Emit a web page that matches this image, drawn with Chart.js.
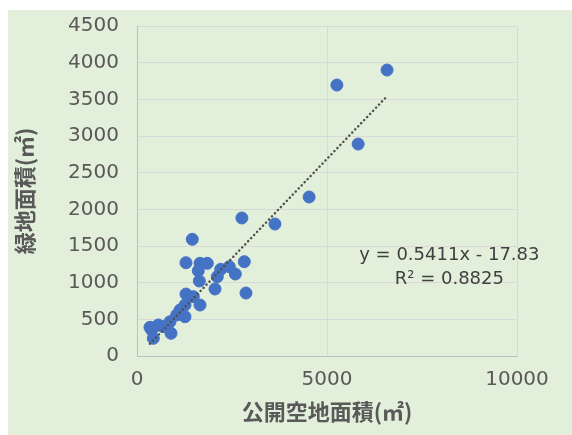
<!DOCTYPE html>
<html>
<head>
<meta charset="utf-8">
<script src="https://cdn.jsdelivr.net/npm/chart.js@4"></script>
<style>
  html, body { margin: 0; padding: 0; background: #ffffff; }
  #wrap { position: absolute; left: 8px; top: 10px; width: 564px; height: 425px; background: #E2EFDA; }
  canvas { display: block; }
</style>
</head>
<body>
<div id="wrap"><canvas id="chart" width="564" height="425"></canvas></div>
<script>
// Data
const openSpaceArea = [6580, 5260, 5820, 4530, 3630, 2760, 1455, 2824, 2868, 1289, 1658, 1850, 1613, 1640,
                       2053, 2203, 2429, 2587, 2113, 1289, 1482, 1658, 1263, 1132, 1045, 1263, 868, 692,
                       561, 342, 387, 895, 429];
const greenArea = [3900, 3695, 2890, 2168, 1800, 1882, 1591, 1286, 859, 1272, 1264, 1264, 1163, 1023,
                   914, 1182, 1218, 1118, 1081, 845, 809, 695, 695, 627, 559, 536, 468, 400,
                   423, 391, 355, 310, 241];
const xTicks = [0, 5000, 10000];
const yTicks = [0, 500, 1000, 1500, 2000, 2500, 3000, 3500, 4000, 4500];
const slope = 0.5411;
const intercept = -17.83;
const equationText = 'y = 0.5411x - 17.83';
const r2Text = 'R² = 0.8825';

const FONT = '"Noto Sans CJK JP", "Noto Sans", sans-serif';
const NUMFONT = '"DejaVu Sans", sans-serif';

const points = openSpaceArea.map((x, i) => ({ x: x, y: greenArea[i] }));
const xMin = Math.min(...openSpaceArea);
const xMax = Math.max(...openSpaceArea);
const trend = [
    { x: xMin, y: slope * xMin + intercept },
    { x: xMax, y: slope * xMax + intercept }
];

// Trendline equation label
const equationLabel = {
    id: 'equationLabel',
    afterDraw(chart) {
        const ctx = chart.ctx;
        const area = chart.chartArea;
        const cx = area.left + (area.right - area.left) * 0.822;
        const cy = area.top + (area.bottom - area.top) * 0.696;
        ctx.save();
        ctx.font = '18px ' + NUMFONT;
        ctx.fillStyle = '#404040';
        ctx.textAlign = 'center';
        ctx.textBaseline = 'middle';
        ctx.fillText(equationText, cx, cy);
        ctx.fillText(r2Text, cx, cy + 24);
        ctx.restore();
    }
};

new Chart(document.getElementById('chart'), {
    type: 'scatter',
    data: {
        datasets: [
            {
                label: 'data',
                data: points,
                backgroundColor: '#4472C4',
                borderColor: '#4472C4',
                pointRadius: 6,
                pointHoverRadius: 6,
                order: 2
            },
            {
                label: 'trend',
                type: 'line',
                data: trend,
                showLine: true,
                borderColor: '#505050',
                borderWidth: 2.5,
                borderDash: [0.1, 4.2],
                borderCapStyle: 'round',
                pointRadius: 0,
                fill: false,
                order: 1
            }
        ]
    },
    options: {
        responsive: false,
        animation: false,
        layout: { padding: { top: 16, right: 55, left: 0, bottom: 0 } },
        plugins: {
            legend: { display: false },
            tooltip: { enabled: false }
        },
        scales: {
            x: {
                type: 'linear',
                min: 0,
                max: 10000,
                afterBuildTicks: (axis) => { axis.ticks = xTicks.map(v => ({ value: v })); },
                afterFit: (axis) => { axis.height = 79; axis.paddingLeft = 0; axis.paddingRight = 0; },
                ticks: {
                    font: { family: NUMFONT, size: 20 },
                    color: '#595959',
                    padding: 12,
                    maxRotation: 0,
                    callback: (v) => String(v)
                },
                grid: { color: '#D9D9D9', lineWidth: 1, drawTicks: false },
                border: { display: true, color: '#BFBFBF', width: 1 },
                title: {
                    display: true,
                    text: '公開空地面積(㎡)',
                    font: { family: FONT, size: 22, weight: 'bold' },
                    color: '#595959',
                    padding: { top: 0, bottom: 10 }
                }
            },
            y: {
                type: 'linear',
                min: 0,
                max: 4500,
                afterBuildTicks: (axis) => { axis.ticks = yTicks.map(v => ({ value: v })); },
                afterFit: (axis) => { axis.width = 129; axis.paddingTop = 0; axis.paddingBottom = 0; },
                ticks: {
                    font: { family: NUMFONT, size: 20 },
                    color: '#595959',
                    padding: 18,
                    callback: (v) => String(v)
                },
                grid: { color: '#D9D9D9', lineWidth: 1, drawTicks: false },
                border: { display: true, color: '#BFBFBF', width: 1 },
                title: {
                    display: true,
                    text: '緑地面積(㎡)',
                    font: { family: FONT, size: 22, weight: 'bold' },
                    color: '#595959',
                    padding: { top: 3, bottom: 0 }
                }
            }
        }
    },
    plugins: [equationLabel]
});
</script>
</body>
</html>
